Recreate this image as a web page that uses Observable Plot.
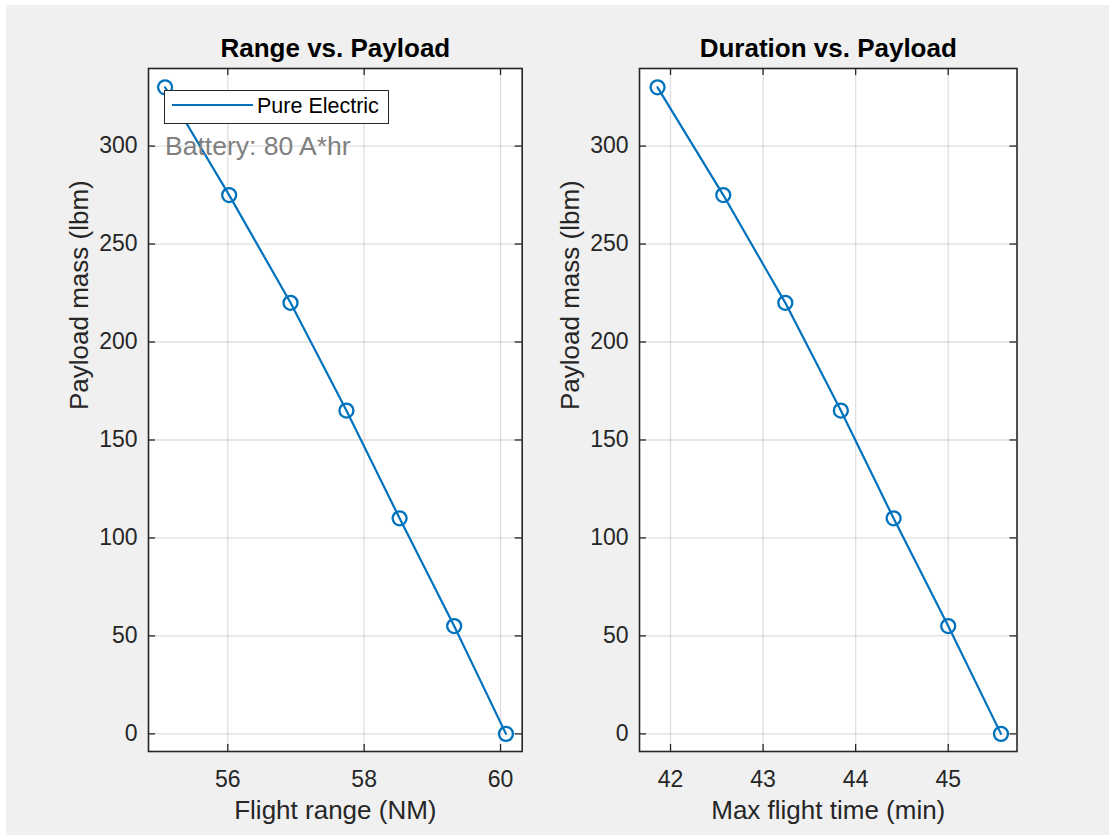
<!DOCTYPE html>
<html><head><meta charset="utf-8">
<script src="https://cdn.jsdelivr.net/npm/d3@7"></script>
<script src="https://cdn.jsdelivr.net/npm/@observablehq/plot@0.6"></script>
<style>
html,body{margin:0;padding:0;background:#fff;}
#fig{position:relative;width:1109px;height:835px;background:#fff;overflow:hidden;font-family:"Liberation Sans",Arial,sans-serif;}
#bg{position:absolute;left:6px;top:5px;right:0;bottom:0;background:#f0f0f0;}
.panel{position:absolute;top:0;}
.panel svg{display:block;}
#legend{position:absolute;left:164px;top:90px;width:225px;height:34px;box-sizing:border-box;background:#fff;border:1.5px solid #262626;}
#legend svg{position:absolute;left:6px;top:0;}
#legend span{position:absolute;left:92px;top:3px;font-size:21.5px;color:#000;white-space:nowrap;line-height:25px;}
</style></head><body>
<div id="fig"><div id="bg"></div></div>
<script>
// ---- data ----
const payloadLbm = [330, 275, 220, 165, 110, 55, 0];
const rangeNM = [55.08, 56.02, 56.92, 57.74, 58.52, 59.32, 60.08];
const flightTimeMin = [41.86, 42.57, 43.24, 43.84, 44.41, 45.00, 45.57];
const rangeTicks = [56, 58, 60];
const timeTicks = [42, 43, 44, 45];
const payloadTicks = [0, 50, 100, 150, 200, 250, 300];
const seriesName = "Pure Electric";
const batteryNote = "Battery: 80 A*hr";
const batteryNotePayload = 300;
const titles = ["Range vs. Payload", "Duration vs. Payload"];
const xLabels = ["Flight range (NM)", "Max flight time (min)"];
const yLabel = "Payload mass (lbm)";

const BLUE = "#0072BD", AX = "#262626";
const FONT = "Liberation Sans, Arial, sans-serif";
const H = 835, MT = 68, MB = 84;

function panel({xs, xDomain, xTicks, title, xLabel, width, marginLeft, marginRight, note}) {
  const rows = payloadLbm.map((p, i) => ({x: xs[i], y: p}));
  const fw = width - marginLeft - marginRight, fh = H - MT - MB;
  const grid = {stroke: AX, strokeOpacity: 0.15, strokeWidth: 1.3};
  const marks = [
    Plot.frame({fill: "white", stroke: null}),
    Plot.gridX(xTicks, grid),
    Plot.gridY(payloadTicks, grid),
    Plot.tickX(xTicks, {x: d => d, insetTop: fh - 7, stroke: AX, strokeWidth: 1.3}),
    Plot.tickX(xTicks, {x: d => d, insetBottom: fh - 7, stroke: AX, strokeWidth: 1.3}),
    Plot.tickY(payloadTicks, {y: d => d, insetRight: fw - 7, stroke: AX, strokeWidth: 1.3}),
    Plot.tickY(payloadTicks, {y: d => d, insetLeft: fw - 7, stroke: AX, strokeWidth: 1.3}),
    Plot.axisX(xTicks, {anchor: "bottom", tickSize: 0, tickPadding: 19, label: null, fontSize: 23, fill: AX}),
    Plot.axisY(payloadTicks, {anchor: "left", tickSize: 0, tickPadding: 11, label: null, fontSize: 23, fill: AX}),
    Plot.line(rows, {x: "x", y: "y", stroke: BLUE, strokeWidth: 2.2}),
    Plot.dot(rows, {x: "x", y: "y", r: 7, stroke: BLUE, strokeWidth: 2.3, fill: "none"}),
  ];
  if (note) marks.push(Plot.text([note], {x: () => xs[0], y: () => batteryNotePayload, text: d => d,
    textAnchor: "start", lineAnchor: "middle", fill: "#808080", fontSize: 26.5}));
  marks.push(
    Plot.frame({stroke: AX, strokeWidth: 1.6}),
    Plot.text([title], {frameAnchor: "top", dy: -19.5, text: d => d, lineAnchor: "middle", fontSize: 26, fontWeight: "bold", fill: "#000"}),
    Plot.text([xLabel], {frameAnchor: "bottom", dy: 59, text: d => d, lineAnchor: "middle", fontSize: 26, fill: AX}),
    Plot.text([yLabel], {frameAnchor: "left", dx: -69, rotate: -90, text: d => d, lineAnchor: "middle", fontSize: 26, fill: AX})
  );
  return Plot.plot({
    width, height: H, marginLeft, marginRight, marginTop: MT, marginBottom: MB,
    style: {background: "transparent", overflow: "visible", fontFamily: FONT},
    x: {domain: xDomain},
    y: {domain: [-9.0, 339.6]},
    marks
  });
}

const fig = document.getElementById("fig");
const left = document.createElement("div"); left.className = "panel"; left.style.left = "0px";
left.appendChild(panel({xs: rangeNM, xDomain: [54.837, 60.318], xTicks: rangeTicks, title: titles[0], xLabel: xLabels[0],
  width: 545, marginLeft: 148, marginRight: 23.3, note: batteryNote}));
fig.appendChild(left);
const right = document.createElement("div"); right.className = "panel"; right.style.left = "545px";
right.appendChild(panel({xs: flightTimeMin, xDomain: [41.665, 45.743], xTicks: timeTicks, title: titles[1], xLabel: xLabels[1],
  width: 564, marginLeft: 94, marginRight: 92.5}));
fig.appendChild(right);

// legend (HTML, overlaid on the first axes)
const lg = document.createElement("div"); lg.id = "legend";
lg.innerHTML = `<svg width="84" height="31"><line x1="1" x2="82" y1="14" y2="14" stroke="${BLUE}" stroke-width="2.2"/></svg><span></span>`;
lg.querySelector("span").textContent = seriesName;
fig.appendChild(lg);
</script>
</body></html>
